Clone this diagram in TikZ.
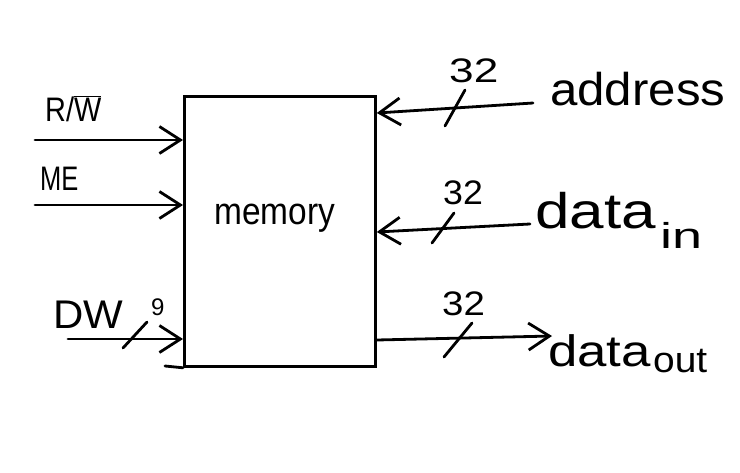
\documentclass[tikz,border=0pt]{standalone}
\usepackage{fontspec}
\setmainfont{Liberation Sans}
\usetikzlibrary{arrows.meta}
\newcommand\hw[3]{\scalebox{#1}[1]{\fontsize{#2}{#2}\selectfont #3}}
\begin{document}
\begin{tikzpicture}[x=1pt,y=-1pt,
  wire/.style={line width=2.8pt, line cap=round, line join=round},
  arr/.style={wire, -{Straight Barb[length=21pt,width=27pt,line width=2.8pt]}},
  word/.style={inner sep=0pt, anchor=base west},
  box/.style={draw, line width=2.8pt, minimum width=191pt, minimum height=270pt, inner sep=0pt, anchor=north west}]
\useasboundingbox (0,0) rectangle (740,472);
% memory block
\node[box] (mem) at (183,95) {};
\node[word] (lmem) at (214,224) {\hw{0.88}{38}{memory}};
\coordinate (tail) at (165,366);
\draw[wire] (mem.south west) -- (tail);
% left inputs
\coordinate (rwS) at (35,140);
\draw[arr] (rwS) -- (rwS -| mem.west);
\node[word] (rw) at (45,121) {\hw{0.85}{34}{R/$\overline{\mbox{W}}$}};
\coordinate (meS) at (35,205);
\draw[arr] (meS) -- (meS -| mem.west);
\node[word] (me) at (40,190) {\hw{0.75}{34}{ME}};
\coordinate (dwS) at (68,339);
\draw[arr] (dwS) -- (dwS -| mem.west);
\node[word] (dw) at (53,328) {\hw{1.05}{40}{DW}};
\node[word] (n9) at (151,315) {\hw{1.0}{24}{9}};
\coordinate (sl0) at (135,335);
\draw[wire] ([shift={(-12,13)}]sl0) -- ([shift={(12,-13)}]sl0);
% address
\coordinate (adS) at (533,103);
\coordinate (adE) at (0,113);
\draw[arr] (adS) -- (adE -| mem.east);
\coordinate (sl1) at (455,108);
\draw[wire] ([shift={(-10,18)}]sl1) -- ([shift={(10,-18)}]sl1);
\node[word] (w1) at (449,82) {\hw{1.3}{34}{32}};
\node[word] (addr) at (550,105) {\hw{1.07}{46}{address}};
% data in
\coordinate (diS) at (530,224);
\coordinate (diE) at (0,232);
\draw[arr] (diS) -- (diE -| mem.east);
\coordinate (sl2) at (443,228);
\draw[wire] ([shift={(-11,15)}]sl2) -- ([shift={(11,-15)}]sl2);
\node[word] (w2) at (443,204) {\hw{1.05}{34}{32}};
\node[word] (din) at (535,228) {\hw{1.24}{50}{data}};
\node[word] (dinsub) at (660,248) {\hw{1.5}{36}{in}};
% data out
\coordinate (doS) at (0,340);
\coordinate (doE) at (552,336);
\draw[arr] (doS -| mem.east) -- (doE);
\coordinate (sl3) at (458,340);
\draw[wire] ([shift={(-14,17)}]sl3) -- ([shift={(14,-17)}]sl3);
\node[word] (w3) at (442,315) {\hw{1.13}{34}{32}};
\node[word] (dout) at (548,366) {\hw{1.2}{44}{data}};
\node[word] (doutsub) at (653,372) {\hw{1.08}{36}{out}};
\end{tikzpicture}
\end{document}
